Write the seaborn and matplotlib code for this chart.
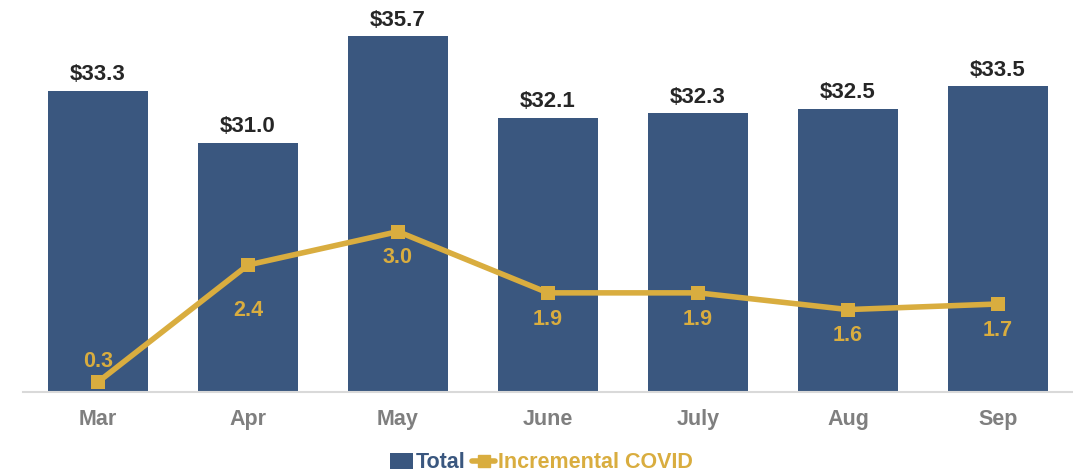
import matplotlib
matplotlib.use('Agg')
import matplotlib.pyplot as plt
from matplotlib.patches import Patch
from matplotlib.lines import Line2D
import seaborn as sns
import pandas as pd

months = ['Mar', 'Apr', 'May', 'June', 'July', 'Aug', 'Sep']
total = [33.3, 31.0, 35.7, 32.1, 32.3, 32.5, 33.5]
covid = [0.3, 2.4, 3.0, 1.9, 1.9, 1.6, 1.7]
# label offset in points (positive = above marker)
covid_offsets = [15, -33, -19, -19, -19, -19, -19]

BLUE = '#3A577F'
GOLD = '#D9AD3F'

sns.set_theme(style='white')
plt.rcParams['font.family'] = ['Liberation Sans', 'DejaVu Sans']
plt.rcParams['font.weight'] = 'bold'

df = pd.DataFrame({'month': months, 'total': total, 'covid': covid})

fig = plt.figure(figsize=(10.73, 4.75), dpi=100)
ax = fig.add_axes([23 / 1073, 1 - 392 / 475, 1 - 23 / 1073, 392 / 475])

sns.barplot(data=df, x='month', y='total', color=BLUE, width=0.667,
            saturation=1, edgecolor='none', ax=ax)
ax.set_ylim(20, 20 + 392 / 22.65)
for i, v in enumerate(total):
    ax.annotate(f'${v:.1f}', (i, v), xytext=(0, 4), textcoords='offset points',
                ha='center', va='bottom', fontsize=16, fontweight='bold',
                color='#262626')

ax2 = ax.twinx()
sns.lineplot(data=df, x='month', y='covid', color=GOLD, linewidth=4,
             marker='s', markersize=10, markeredgewidth=0, sort=False, ax=ax2)
ax2.set_ylim(0.12, 0.12 + 392 / 55.7)
for i, v in enumerate(covid):
    off = covid_offsets[i]
    ax2.annotate(f'{v:.1f}', (i, v), xytext=(0, off), textcoords='offset points',
                 ha='center', va='center', fontsize=15.5, fontweight='bold',
                 color=GOLD)

for a in (ax, ax2):
    a.set_ylabel('')
    a.set_xlabel('')
    a.set_yticks([])
    for s in ['top', 'right', 'left']:
        a.spines[s].set_visible(False)
ax2.spines['bottom'].set_visible(False)
ax.spines['bottom'].set_color('#d9d9d9')
ax.spines['bottom'].set_linewidth(1.5)
ax.set_xlim(-0.5, 6.5)
ax.tick_params(axis='x', length=0, pad=12, labelsize=15.5, labelcolor='#7f7f7f')
for t in ax.get_xticklabels():
    t.set_fontweight('bold')

handles = [Patch(facecolor=BLUE, edgecolor='none'),
           Line2D([0], [0], color=GOLD, linewidth=4, marker='s', markersize=9)]
leg = fig.legend(handles, ['Total', 'Incremental COVID'], loc='center',
                 bbox_to_anchor=(541 / 1073, 1 - 463 / 475), ncol=2, frameon=False,
                 handlelength=1.1, handletextpad=0.1,
                 columnspacing=0.3, prop={'weight': 'bold', 'size': 15.5})
for txt, c in zip(leg.get_texts(), [BLUE, GOLD]):
    txt.set_color(c)

fig.savefig('out.png', dpi=100)
